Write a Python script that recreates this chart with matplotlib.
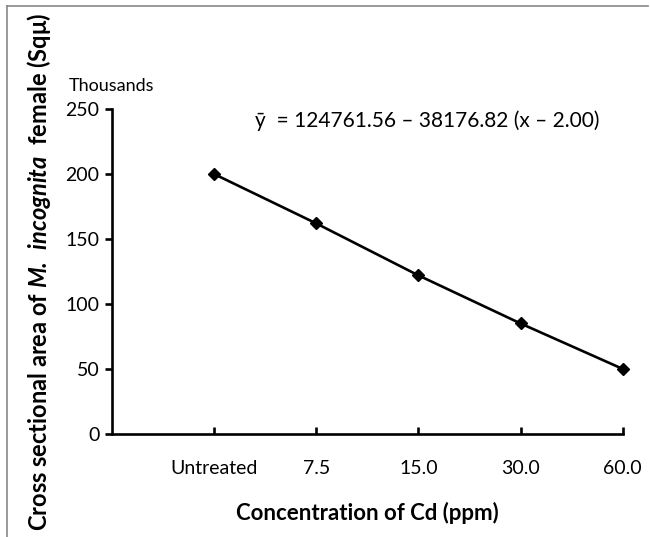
import matplotlib.pyplot as plt
import numpy as np
from matplotlib.lines import Line2D

plt.rcParams['font.family'] = ['Lato', 'DejaVu Sans']
plt.rcParams['mathtext.fontset'] = 'custom'
plt.rcParams['mathtext.bfit'] = 'Lato:bold:italic'
plt.rcParams['mathtext.rm'] = 'Lato'

categories = ['Untreated', '7.5', '15.0', '30.0', '60.0']
area = [200, 162, 122, 85, 50]  # thousands
yticks = [0, 50, 100, 150, 200, 250]

fig = plt.figure(figsize=(6.5, 5.37), dpi=100)
ax = fig.add_axes([0.172, 0.192, 0.786, 0.605])

x = np.arange(len(categories))
ax.plot(x, area, color='black', lw=1.9, marker='D', markersize=6, zorder=3, clip_on=False)

ax.set_xlim(-1, 4)
ax.set_ylim(0, 250)
ax.set_xticks(x)
ax.set_xticklabels(categories)
ax.set_yticks(yticks)

for s in ['top', 'right']:
    ax.spines[s].set_visible(False)
for s in ['left', 'bottom']:
    ax.spines[s].set_linewidth(1.9)
ax.tick_params(axis='x', direction='in', length=5, width=1.9, pad=19, labelsize=14)
ax.tick_params(axis='y', direction='out', length=5, width=1.9, pad=4, labelsize=14)

ax.set_xlabel('Concentration of Cd (ppm)', fontsize=16, fontweight='bold', labelpad=18)
fig.text(0.06, 0.493, r'Cross sectional area of $\mathbfit{M.\ incognita}$  female (Sqμ)',
         rotation=90, ha='center', va='center', fontsize=17, fontweight='bold')

fig.text(0.106, 0.84, 'Thousands', fontsize=13, va='center')
ax.text(0.28, 0.965, 'ȳ  = 124761.56 – 38176.82 (x – 2.00)', transform=ax.transAxes,
        fontsize=15, va='center', ha='left')

# outer frame lines
fig.add_artist(Line2D([0.011, 0.011], [0, 0.989], color='#888888', lw=1.2, transform=fig.transFigure))
fig.add_artist(Line2D([0.011, 0.997], [0.989, 0.989], color='#888888', lw=1.2, transform=fig.transFigure))

fig.savefig('out.png', dpi=100)
